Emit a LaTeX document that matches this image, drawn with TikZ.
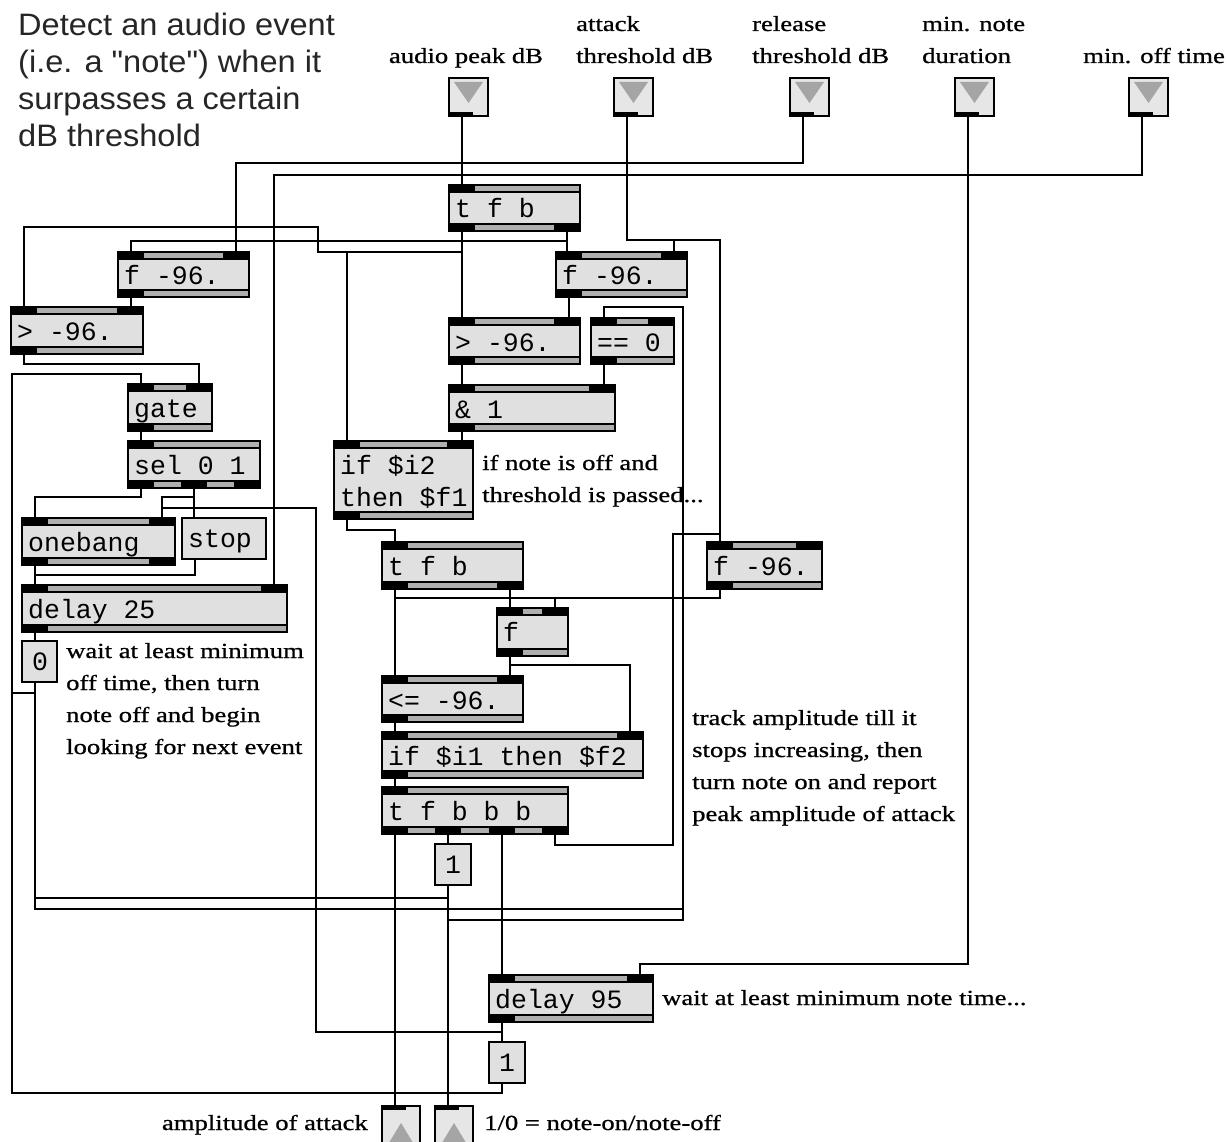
\documentclass[tikz,border=0pt]{standalone}
\usepackage{fontspec}
\setmainfont{Liberation Serif}[FakeStretch=1.24,FakeBold=0.8]
\newfontfamily\maxmono{Liberation Mono}
\newfontfamily\bigsans{Liberation Sans}[FakeStretch=1.05]
\definecolor{boxgray}{RGB}{224,224,224}
\definecolor{bandgray}{RGB}{175,175,175}
\definecolor{trigray}{RGB}{165,165,165}
\definecolor{inletfill}{RGB}{230,230,230}

% object box: name, x1, y1, x2, y2, text, #inlets, #outlets
\newcommand{\mobj}[8]{%
  \pgfmathsetmacro{\mxW}{#4-#2}%
  \pgfmathsetmacro{\mxH}{#5-#3}%
  \node[objbody, minimum width=\mxW pt, minimum height=\mxH pt] (#1) at ({(#2+#4)/2},{(#3+#5)/2}) {};
  \fill[bandgray] (#2,#3) rectangle (#4,#3+7);
  \draw[line width=1.2pt] (#2,#3+7) -- (#4,#3+7);
  \fill[bandgray] (#2,#5-7) rectangle (#4,#5);
  \draw[line width=1.2pt] (#2,#5-7) -- (#4,#5-7);
  \foreach \k in {1,...,#7}{%
    \pgfmathsetmacro{\mxT}{#2+(\k-1)*(\mxW-26)/max(#7-1,1)}%
    \fill (\mxT,#3) rectangle (\mxT+26,#3+7);
    \coordinate (#1-i\k) at (\mxT+13,#3);
  }
  \foreach \k in {1,...,#8}{%
    \pgfmathsetmacro{\mxT}{#2+(\k-1)*(\mxW-26)/max(#8-1,1)}%
    \fill (\mxT,#5-7) rectangle (\mxT+26,#5);
    \coordinate (#1-o\k) at (\mxT+13,#5);
  }
  \draw[line width=2pt] (#2,#3) rectangle (#4,#5);
  \node[objtext] (#1-t) at (#2+6,#3+33) {#6};
}
% message box: name, x1, y1, x2, y2, text, text x offset
\newcommand{\mmsg}[7]{%
  \pgfmathsetmacro{\mxW}{#4-#2}%
  \pgfmathsetmacro{\mxH}{#5-#3}%
  \node[msgbox, minimum width=\mxW pt, minimum height=\mxH pt] (#1) at ({(#2+#4)/2},{(#3+#5)/2}) {};
  \node[objtext] (#1-t) at (#2+#7,{(#3+#5)/2+9}) {#6};
  \coordinate (#1-i) at (#2+13,#3);
  \coordinate (#1-o) at (#2+13,#5);
}
% patch inlet: name, x1, y1
\newcommand{\minl}[3]{%
  \node[inlbox] (#1) at (#2+19.5,#3+19) {};
  \fill[trigray] (#2+5,#3+4) -- (#2+34,#3+4) -- (#2+19.5,#3+25) -- cycle;
  \fill (#2,#3+34) rectangle (#2+24,#3+38);
  \draw[line width=2pt] (#2,#3) rectangle (#2+39,#3+38);
  \coordinate (#1-o) at (#2+13,#3+38);
}
% patch outlet: name, x1, y1
\newcommand{\moutl}[3]{%
  \node[inlbox] (#1) at (#2+19,#3+19) {};
  \fill[trigray] (#2+5,#3+40) -- (#2+33,#3+40) -- (#2+19,#3+17) -- cycle;
  \fill (#2,#3) rectangle (#2+24,#3+4);
  \draw[line width=2pt] (#2,#3) rectangle (#2+38,#3+38);
  \coordinate (#1-i) at (#2+13,#3);
}

\begin{document}
\begin{tikzpicture}[x=1pt,y=-1pt,
  wire/.style={line width=2pt},
  objbody/.style={fill=boxgray,inner sep=0pt,outer sep=0pt},
  msgbox/.style={draw,line width=2pt,fill=boxgray,inner sep=0pt,outer sep=0pt},
  inlbox/.style={fill=inletfill,inner sep=0pt,outer sep=0pt,minimum width=39pt,minimum height=38pt},
  objtext/.style={font=\maxmono\fontsize{26.5}{30}\selectfont,inner sep=0pt,anchor=base west},
  cmt/.style={font=\fontsize{21.5}{32}\selectfont,inner sep=0pt,anchor=base west},
  big/.style={font=\bigsans\fontsize{31}{37}\selectfont,inner sep=0pt,anchor=base west,text=black!85}]

\path[use as bounding box, fill=white] (0,0) rectangle (1227,1142);

% ---------- comments ----------
\node[big] (h1) at (18,36) {Detect an audio event};
\node[big] (h2) at (18,73) {(i.e. a "note") when it};
\node[big] (h3) at (18,110) {surpasses a certain};
\node[big] (h4) at (18,147) {dB threshold};

\node[cmt,anchor=base] (lA) at (466,63) {audio peak dB};
\node[cmt] (lB1) at (576,31) {attack};
\node[cmt] (lB2) at (576,63) {threshold dB};
\node[cmt] (lC1) at (752,31) {release};
\node[cmt] (lC2) at (752,63) {threshold dB};
\node[cmt] (lD1) at (922,31) {min. note};
\node[cmt] (lD2) at (922,63) {duration};
\node[cmt] (lE) at (1083,63) {min. off time};

\node[cmt] (c1a) at (482,470) {if note is off and};
\node[cmt] (c1b) at (482,502) {threshold is passed...};

\node[cmt] (c2a) at (66,658) {wait at least minimum};
\node[cmt] (c2b) at (66,690) {off time, then turn};
\node[cmt] (c2c) at (66,722) {note off and begin};
\node[cmt] (c2d) at (66,754) {looking for next event};

\node[cmt] (c3a) at (692,725) {track amplitude till it};
\node[cmt] (c3b) at (692,757) {stops increasing, then};
\node[cmt] (c3c) at (692,789) {turn note on and report};
\node[cmt] (c3d) at (692,821) {peak amplitude of attack};

\node[cmt] (c4) at (662,1005) {wait at least minimum note time...};
\node[cmt,anchor=base east] (c5) at (368,1130) {amplitude of attack};
\node[cmt] (c6) at (484,1130) {1/0 = note-on/note-off};

% ---------- patch inlets / outlets ----------
\minl{inA}{449}{78}
\minl{inB}{614}{78}
\minl{inC}{790}{78}
\minl{inD}{955}{78}
\minl{inE}{1129}{78}
\moutl{outA}{382}{1106}
\moutl{outB}{435}{1106}

% ---------- objects ----------
\mobj{tfbA}{449}{185}{580}{231}{t f b}{1}{2}
\mobj{fL}{118}{252}{249}{297}{f -96.}{2}{1}
\mobj{fR}{556}{252}{687}{297}{f -96.}{2}{1}
\mobj{gtL}{11}{307}{143}{354}{> -96.}{2}{1}
\mobj{gtC}{449}{318}{580}{364}{> -96.}{2}{1}
\mobj{eqZ}{591}{318}{674}{364}{== 0}{2}{1}
\mobj{andA}{449}{385}{615}{431}{\& 1}{2}{1}
\mobj{gate}{128}{384}{212}{431}{gate}{2}{1}
\mobj{sel}{128}{441}{260}{488}{sel 0 1}{1}{3}
\mobj{ifA}{334}{441}{473}{519}{if \$i2}{2}{1}
\node[objtext] (ifA-t2) at (340,506) {then \$f1};
\mobj{oneb}{22}{518}{175}{565}{onebang}{2}{2}
\mmsg{stop}{182}{518}{266}{559}{stop}{6}
\mobj{dlA}{22}{585}{287}{632}{delay 25}{2}{1}
\mmsg{mZero}{22}{641}{57}{682}{0}{10}
\mobj{tfbB}{382}{542}{523}{589}{t f b}{1}{2}
\mobj{fRB}{707}{542}{822}{589}{f -96.}{2}{1}
\mobj{fF}{497}{608}{568}{656}{f}{2}{1}
\mobj{le}{382}{676}{523}{722}{<= -96.}{2}{1}
\mobj{ifB}{382}{732}{643}{778}{if \$i1 then \$f2}{2}{1}
\mobj{tfbbb}{382}{787}{568}{834}{t f b b b}{1}{4}
\mmsg{mOneA}{435}{844}{471}{885}{1}{10}
\mobj{dlB}{489}{975}{653}{1022}{delay 95}{2}{1}
\mmsg{mOneB}{489}{1042}{525}{1083}{1}{10}

% ---------- connections ----------
\draw[wire] (inA-o) -- (inA-o |- tfbA-i1);
\draw[wire] (inB-o) |- (fR-i2 |- 0,240) -- (fR-i2);
\draw[wire] (inB-o) |- (fRB-i1 |- 0,240) -- (fRB-i1);
\draw[wire] (inC-o) |- (fL-i2 |- 0,163) -- (fL-i2);
\draw[wire] (inE-o) |- (dlA-i2 |- 0,175) -- (dlA-i2);
\draw[wire] (inD-o) |- (dlB-i2 |- 0,964) -- (dlB-i2);
\draw[wire] (tfbA-o1) -- (tfbA-o1 |- gtC-i1);
\draw[wire] (tfbA-o1) |- (318,252) |- (gtL-i1 |- 0,227) -- (gtL-i1);
\draw[wire] (tfbA-o1) |- (ifA-i1 |- 0,252) -- (ifA-i1);
\draw[wire] (tfbA-o2) -- (tfbA-o2 |- fR-i1);
\draw[wire] (tfbA-o2) |- (fL-i1 |- 0,241) -- (fL-i1);
\draw[wire] (fL-o1) -- (fL-o1 |- gtL-i2);
\draw[wire] (fR-o1) -- (fR-o1 |- gtC-i2);
\draw[wire] (gtL-o1) |- (gate-i2 |- 0,364) -- (gate-i2);
\draw[wire] (gtC-o1) -- (gtC-o1 |- andA-i1);
\draw[wire] (eqZ-o1) -- (eqZ-o1 |- andA-i2);
\draw[wire] (andA-o1) -- (andA-o1 |- ifA-i2);
\draw[wire] (gate-o1) -- (gate-o1 |- sel-i1);
\draw[wire] (sel-o1) |- (oneb-i1 |- 0,497) -- (oneb-i1);
\draw[wire] (sel-o2) -- (sel-o2 |- stop-i);
\draw[wire] (sel-o2) |- (oneb-i2 |- 0,497) -- (oneb-i2);
\draw[wire] (oneb-o1) -- (oneb-o1 |- dlA-i1);
\draw[wire] (stop-o) |- (dlA-i1 |- 0,575) -- (dlA-i1);
\draw[wire] (dlA-o1) -- (dlA-o1 |- mZero-i);
\draw[wire] (mZero-o) |- (12,693) |- (gate-i1 |- 0,374) -- (gate-i1);
\draw[wire] (mZero-o) |- (outB-i |- 0,898) -- (outB-i);
\draw[wire] (mZero-o) |- (683,909) |- (eqZ-i1 |- 0,307) -- (eqZ-i1);
\draw[wire] (ifA-o1) |- (tfbB-i1 |- 0,530) -- (tfbB-i1);
\draw[wire] (tfbB-o1) -- (tfbB-o1 |- le-i1);
\draw[wire] (tfbB-o1) |- (fF-i2 |- 0,598) -- (fF-i2);
\draw[wire] (tfbB-o2) -- (tfbB-o2 |- fF-i1);
\draw[wire] (fRB-o1) |- (fF-i2 |- 0,598) -- (fF-i2);
\draw[wire] (fF-o1) -- (fF-o1 |- le-i2);
\draw[wire] (fF-o1) |- (ifB-i2 |- 0,665) -- (ifB-i2);
\draw[wire] (le-o1) -- (le-o1 |- ifB-i1);
\draw[wire] (ifB-o1) -- (ifB-o1 |- tfbbb-i1);
\draw[wire] (tfbbb-o1) -- (tfbbb-o1 |- outA-i);
\draw[wire] (tfbbb-o2) -- (tfbbb-o2 |- mOneA-i);
\draw[wire] (tfbbb-o3) -- (tfbbb-o3 |- dlB-i1);
\draw[wire] (tfbbb-o4) |- (673,845) |- (fRB-i1 |- 0,534) -- (fRB-i1);
\draw[wire] (mOneA-o) -- (mOneA-o |- outB-i);
\draw[wire] (mOneA-o) |- (683,920) |- (eqZ-i1 |- 0,307) -- (eqZ-i1);
\draw[wire] (dlB-o1) -- (dlB-o1 |- mOneB-i);
\draw[wire] (dlB-o1) |- (316,1032) |- (oneb-i2 |- 0,508) -- (oneb-i2);
\draw[wire] (mOneB-o) |- (12,1093) |- (gate-i1 |- 0,374) -- (gate-i1);
\end{tikzpicture}
\end{document}
